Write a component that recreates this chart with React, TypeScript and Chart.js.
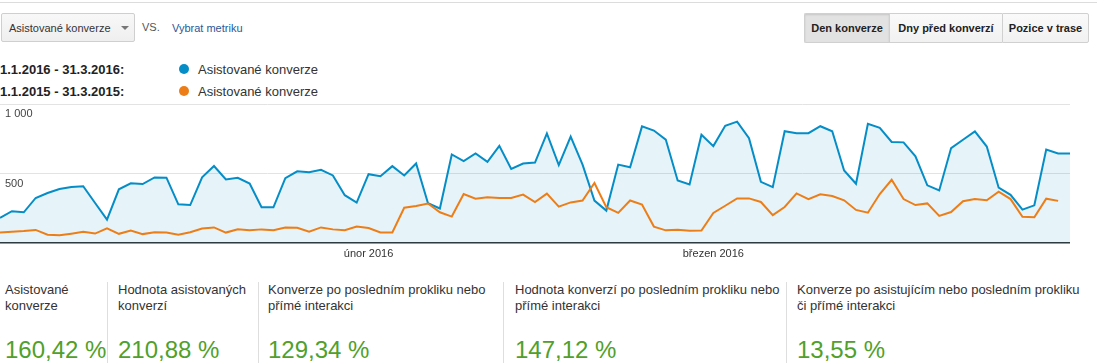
import React, { useEffect, useRef } from "react";
import { Chart, registerables } from "chart.js";

Chart.register(...registerables);

// ---- Data ----
const currentRangeLabel = "1.1.2016 - 31.3.2016:";
const previousRangeLabel = "1.1.2015 - 31.3.2015:";
const metricName = "Asistované konverze";

const assisted2016 = [
  181, 229, 221, 324, 360, 389, 403, 408, 288, 168,
  386, 429, 424, 472, 470, 278, 273, 472, 554, 457,
  469, 428, 257, 257, 466, 516, 509, 526, 486, 344,
  291, 495, 481, 553, 486, 572, 286, 248, 637, 589,
  644, 584, 699, 533, 572, 579, 788, 561, 766, 564,
  305, 233, 564, 545, 839, 809, 744, 450, 421, 779,
  697, 843, 873, 754, 440, 402, 804, 789, 790, 840,
  804, 522, 426, 857, 829, 727, 724, 624, 415, 378,
  683, 743, 803, 694, 398, 347, 240, 271, 672, 644,
  643,
];

const assisted2015 = [
  76, 81, 86, 94, 60, 55, 67, 80, 68, 105,
  66, 89, 64, 78, 76, 60, 77, 104, 112, 75,
  99, 91, 98, 92, 112, 109, 81, 112, 98, 92,
  119, 108, 76, 76, 254, 266, 284, 221, 190, 352,
  319, 329, 324, 324, 348, 295, 355, 262, 292, 306,
  432, 258, 217, 306, 276, 118, 91, 96, 88, 89,
  216, 268, 321, 321, 295, 201, 259, 357, 316, 350,
  338, 307, 238, 218, 352, 455, 316, 273, 285, 195,
  223, 300, 316, 307, 369, 316, 188, 185, 319, 303,
];

// Category labels: days 1.1.2016 – 31.3.2016
const monthLengths2016 = [31, 29, 31];
const dayLabels: string[] = [];
monthLengths2016.forEach((len, m) => {
  for (let d = 1; d <= len; d++) dayLabels.push(`${d}.${m + 1}.2016`);
});

const xTickDates = ["1.2.2016", "1.3.2016"];
const xTickTexts = ["únor 2016", "březen 2016"];

const yTickValues = [500, 1000];
const yTickTexts = ["500", "1 000"];

const kpiLabels = [
  "Asistované\nkonverze",
  "Hodnota asistovaných\nkonverzí",
  "Konverze po posledním prokliku nebo\npřímé interakci",
  "Hodnota konverzí po posledním prokliku nebo\npřímé interakci",
  "Konverze po asistujícím nebo posledním prokliku\nči přímé interakci",
];
const kpiValues = ["160,42 %", "210,88 %", "129,34 %", "147,12 %", "13,55 %"];

const buttonLabels = ["Den konverze", "Dny před konverzí", "Pozice v trase"];

const BLUE = "#058dc7";
const ORANGE = "#ed7e17";
const FONT = "'Liberation Sans', Arial, sans-serif";

const kpiX = [5, 118, 268, 515, 797];
const sepX = [107, 258, 503, 786];
const buttonBounds = [
  [804, 889],
  [889, 1002],
  [1002, 1089],
];

export default function App() {
  const canvasRef = useRef<HTMLCanvasElement | null>(null);

  useEffect(() => {
    document.body.style.margin = "0";
    const canvas = canvasRef.current;
    if (!canvas) return;
    const chart = new Chart(canvas, {
      type: "line",
      data: {
        labels: dayLabels,
        datasets: [
          {
            label: currentRangeLabel + " " + metricName,
            data: assisted2016,
            borderColor: BLUE,
            backgroundColor: "rgba(5,141,199,0.1)",
            fill: "origin",
            borderWidth: 2,
            pointRadius: 0,
            tension: 0,
            order: 2,
          },
          {
            label: previousRangeLabel + " " + metricName,
            data: assisted2015,
            borderColor: ORANGE,
            fill: false,
            borderWidth: 2,
            pointRadius: 0,
            tension: 0,
            order: 1,
          },
        ],
      },
      options: {
        animation: false,
        responsive: false,
        maintainAspectRatio: false,
        layout: { padding: 0 },
        plugins: {
          legend: { display: false },
          tooltip: { enabled: false },
        },
        scales: {
          x: {
            grid: { display: false, drawTicks: false },
            border: { display: true, color: "#333", width: 1.5 },
            ticks: {
              autoSkip: false,
              maxRotation: 0,
              minRotation: 0,
              padding: 4,
              color: "#333",
              font: { family: FONT, size: 11 },
              callback: (_v: any, i: number) => {
                const k = xTickDates.indexOf(dayLabels[i]);
                return k >= 0 ? xTickTexts[k] : "";
              },
            },
            afterFit: (s: any) => {
              s.height = 21;
              s.paddingLeft = 0;
              s.paddingRight = 0;
            },
          },
          y: {
            min: 0,
            max: 1000,
            grid: {
              drawTicks: false,
              color: (ctx: any) =>
                ctx.tick && ctx.tick.value === 0 ? "rgba(0,0,0,0)" : "#e3e3e3",
            },
            border: { display: false },
            ticks: {
              stepSize: 500,
              mirror: true,
              padding: 5,
              labelOffset: 10,
              color: "#444",
              font: { family: FONT, size: 11 },
              callback: (v: any) => {
                const k = yTickValues.indexOf(Number(v));
                return k >= 0 ? yTickTexts[k] : "";
              },
            },
            afterFit: (s: any) => {
              s.width = 0;
              s.paddingTop = 0;
              s.paddingBottom = 0;
            },
          },
        },
      },
    });
    return () => chart.destroy();
  }, []);

  const abs = (style: React.CSSProperties): React.CSSProperties => ({
    position: "absolute",
    ...style,
  });

  return (
    <div
      style={{
        position: "relative",
        width: 1100,
        height: 363,
        overflow: "hidden",
        background: "#fff",
        fontFamily: FONT,
        color: "#333",
      }}
    >
      {/* top rule */}
      <div style={abs({ left: 0, top: 2, width: 1097, height: 1, background: "#dcdcdc" })} />

      {/* metric dropdown */}
      <div
        style={abs({
          left: 1,
          top: 13,
          width: 132,
          height: 27,
          border: "1px solid #cfcfcf",
          borderRadius: 2,
          background: "linear-gradient(#f8f8f8, #efefef)",
        })}
      />
      <div style={abs({ left: 9, top: 21, fontSize: 11, lineHeight: "14px", color: "#333" })}>{metricName}</div>
      <div
        style={abs({
          left: 121,
          top: 26,
          width: 0,
          height: 0,
          borderLeft: "4px solid transparent",
          borderRight: "4px solid transparent",
          borderTop: "4px solid #777",
        })}
      />
      <div style={abs({ left: 142, top: 20, fontSize: 11, lineHeight: "14px", color: "#555" })}>VS.</div>
      <div style={abs({ left: 172, top: 21, fontSize: 11, lineHeight: "14px", color: "#2b5797" })}>Vybrat metriku</div>

      {/* right button group */}
      {buttonLabels.map((t, i) => {
        const [x0, x1] = buttonBounds[i];
        const active = i === 0;
        return (
          <div
            key={t}
            style={abs({
              left: x0,
              top: 13,
              width: x1 - x0 - (i === 2 ? 2 : 1),
              height: 28,
              borderTop: "1px solid #d0d0d0",
              borderBottom: "1px solid #d0d0d0",
              borderLeft: "1px solid #d0d0d0",
              borderRight: i === 2 ? "1px solid #d0d0d0" : "none",
              borderRadius: i === 0 ? "2px 0 0 2px" : i === 2 ? "0 2px 2px 0" : 0,
              background: active ? "#e2e2e2" : "linear-gradient(#fafafa, #f1f1f1)",
              boxShadow: active ? "inset 0 1px 2px rgba(0,0,0,0.12)" : "none",
              fontSize: 11,
              fontWeight: "bold",
              color: "#222",
              lineHeight: "28px",
              textAlign: "center",
            })}
          >
            {t}
          </div>
        );
      })}

      {/* legend */}
      <div style={abs({ left: 0, top: 62, fontSize: 13, fontWeight: "bold", lineHeight: "16px", color: "#222" })}>
        {currentRangeLabel}
      </div>
      <div style={abs({ left: 0, top: 84, fontSize: 13, fontWeight: "bold", lineHeight: "16px", color: "#222" })}>
        {previousRangeLabel}
      </div>
      <div style={abs({ left: 179, top: 64, width: 10, height: 10, borderRadius: 5, background: BLUE })} />
      <div style={abs({ left: 179, top: 86, width: 10, height: 10, borderRadius: 5, background: ORANGE })} />
      <div style={abs({ left: 198, top: 62, fontSize: 13, lineHeight: "16px", color: "#333" })}>{metricName}</div>
      <div style={abs({ left: 198, top: 84, fontSize: 13, lineHeight: "16px", color: "#333" })}>{metricName}</div>

      {/* chart */}
      <canvas
        ref={canvasRef}
        width={1070}
        height={160}
        style={abs({ left: 0, top: 104, width: 1070, height: 160 })}
      />

      {/* KPI strip */}
      {sepX.map((x) => (
        <div key={x} style={abs({ left: x, top: 282, width: 1, height: 81, background: "#dedede" })} />
      ))}
      {kpiLabels.map((t, i) => (
        <div
          key={t}
          style={abs({
            left: kpiX[i],
            top: 282,
            fontSize: 13,
            lineHeight: "16px",
            whiteSpace: "pre",
            color: "#333",
          })}
        >
          {t}
        </div>
      ))}
      {kpiValues.map((t, i) => (
        <div
          key={t}
          style={abs({
            left: kpiX[i],
            top: 338,
            fontSize: 24,
            lineHeight: "24px",
            whiteSpace: "pre",
            color: "#50a02a",
          })}
        >
          {t}
        </div>
      ))}
    </div>
  );
}
